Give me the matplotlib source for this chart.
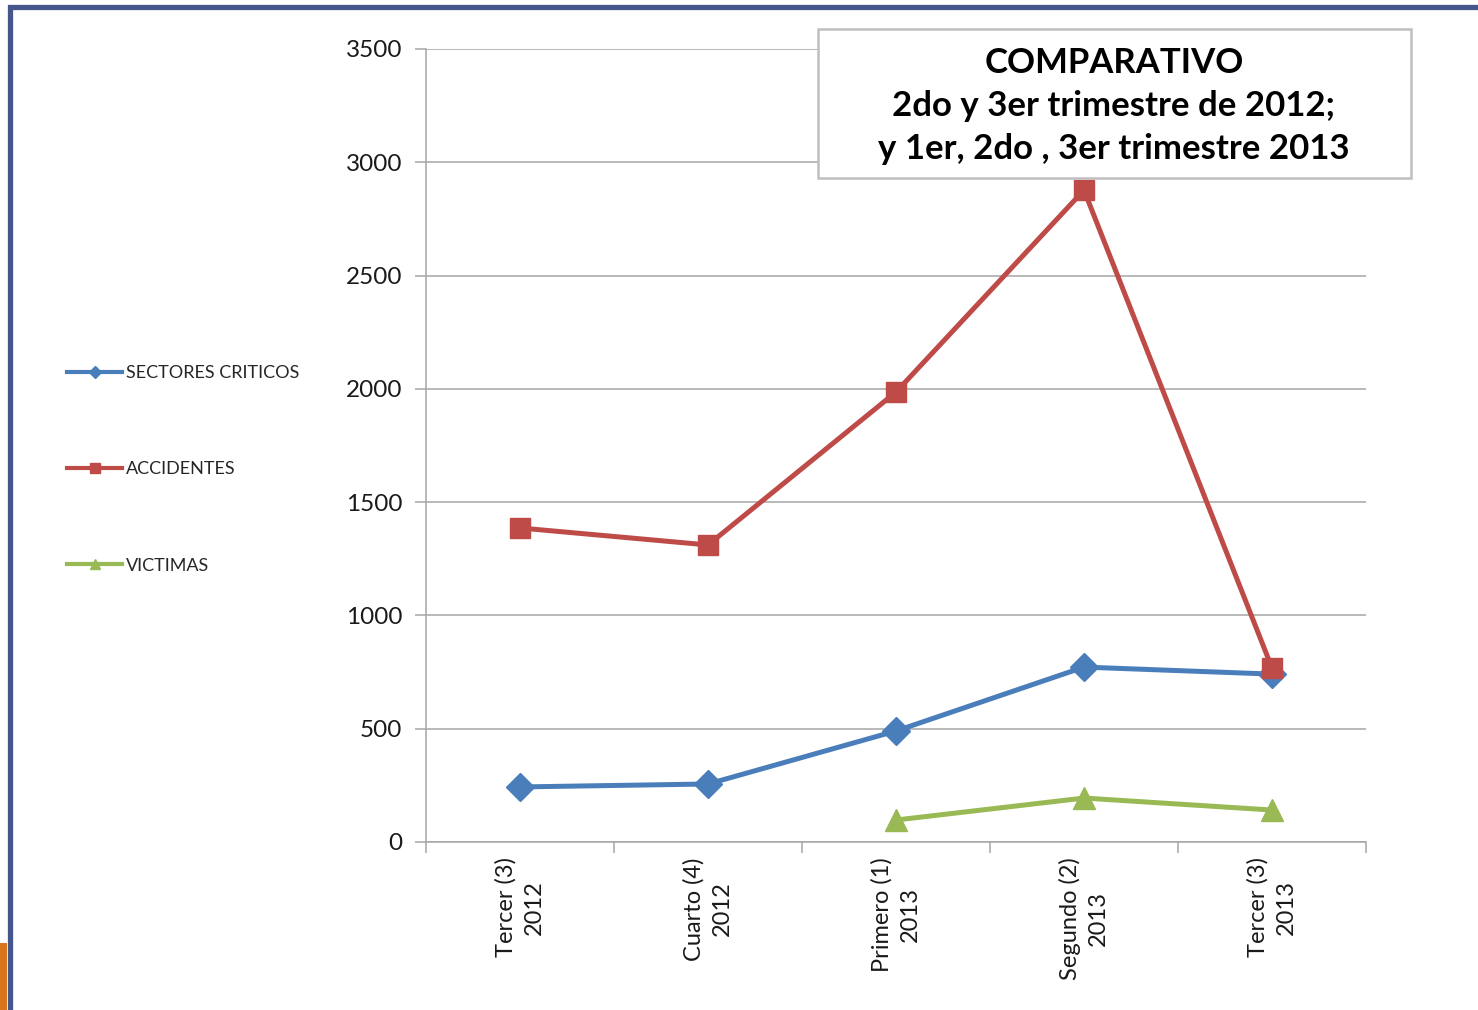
import numpy as np
import matplotlib
matplotlib.use("Agg")
import matplotlib.pyplot as plt
from matplotlib.lines import Line2D
from matplotlib.patches import Rectangle

plt.rcParams['font.family'] = ['Lato', 'DejaVu Sans']

categories = ["Tercer (3)\n2012", "Cuarto (4)\n2012", "Primero (1)\n2013",
              "Segundo (2)\n2013", "Tercer (3)\n2013"]
sectores = [243, 256, 490, 772, 741]
accidentes = [1386, 1311, 1986, 2877, 768]
victimas = [np.nan, np.nan, 97, 194, 141]

blue = '#4A7EBB'
red = '#BE4B48'
green = '#98B954'
grid_gray = '#A6A6A6'

fig = plt.figure(figsize=(14.78, 10.10), dpi=100)
W, H = 1478, 1010

# slide frame
fig.patches.append(Rectangle((9.5 / W, -0.1), 2, 1 - 6.5 / H + 0.1,
                             transform=fig.transFigure, fill=False,
                             edgecolor='#44568A', lw=3.8, zorder=0))
fig.patches.append(Rectangle((0, 0), 7 / W, (1010 - 943) / H,
                             transform=fig.transFigure, facecolor='#D9731C',
                             edgecolor='none', zorder=0))

ax = fig.add_axes([426 / W, 1 - 842 / H, 940 / W, 793 / H])
x = np.arange(len(categories))

ax.plot(x, sectores, color=blue, lw=3.6, marker='D', ms=14, zorder=3)
ax.plot(x, accidentes, color=red, lw=3.6, marker='s', ms=14, zorder=4)
ax.plot(x, victimas, color=green, lw=3.6, marker='^', ms=16, zorder=3)

ax.set_xlim(-0.5, 4.5)
ax.set_ylim(0, 3500)
ax.set_yticks(np.arange(0, 3501, 500))
ax.yaxis.grid(True, color=grid_gray, lw=1.1)
ax.set_axisbelow(True)

ax.set_xticks(x)
ax.set_xticklabels(categories, rotation=90, ha='center', va='top',
                   multialignment='center', fontsize=17, color='#1A1A1A',
                   linespacing=1.45)
ax.set_xticks(np.arange(-0.5, 5, 1), minor=True)
ax.tick_params(axis='x', which='major', length=0, pad=11)
ax.tick_params(axis='x', which='minor', length=8, color=grid_gray, width=1.1)
ax.tick_params(axis='y', length=8, color=grid_gray, width=1.1, labelsize=17.5,
               pad=9, labelcolor='#1A1A1A')

for side in ['top', 'right']:
    ax.spines[side].set_visible(False)
for side in ['left', 'bottom']:
    ax.spines[side].set_color(grid_gray)
    ax.spines[side].set_linewidth(1.1)

# legend
handles = [
    Line2D([], [], color=blue, lw=3, marker='D', ms=6),
    Line2D([], [], color=red, lw=3, marker='s', ms=7),
    Line2D([], [], color=green, lw=3, marker='^', ms=7),
]
fig.legend(handles, ['SECTORES CRITICOS', 'ACCIDENTES', 'VICTIMAS'],
           loc='upper left', bbox_to_anchor=(58 / W, 1 - 356 / H),
           frameon=False, fontsize=13, handlelength=3.05, handletextpad=0.2,
           labelspacing=4.45, borderpad=0, labelcolor='#262626')

# title box
fig.patches.append(Rectangle((818 / W, 1 - 178 / H), (1411 - 818) / W,
                             (178 - 29) / H, transform=fig.transFigure,
                             facecolor='white', edgecolor='#BFBFBF', lw=1.8,
                             zorder=5))
fig.text(1114 / W, 1 - 106 / H,
         "COMPARATIVO\n2do y 3er trimestre de 2012;\ny 1er, 2do , 3er trimestre 2013",
         ha='center', va='center', fontsize=25, fontweight='bold',
         linespacing=1.42, zorder=6)

fig.savefig('out.png', dpi=100)
